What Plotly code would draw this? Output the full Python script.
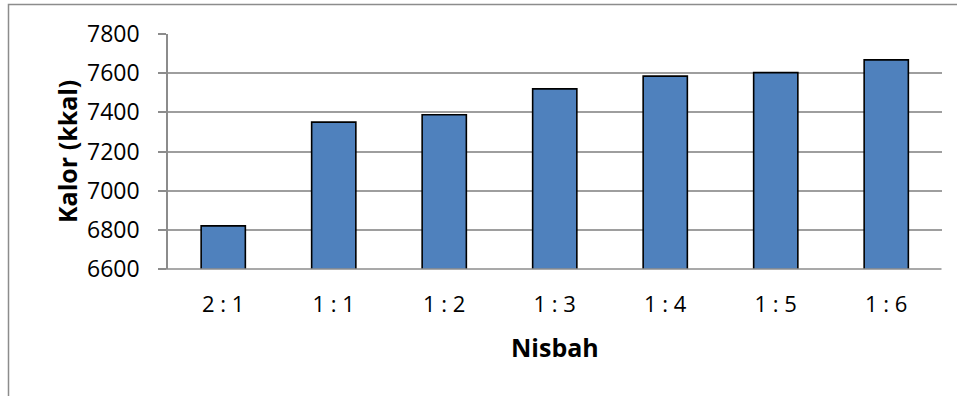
import plotly.graph_objects as go

categories = ["2 : 1", "1 : 1", "1 : 2", "1 : 3", "1 : 4", "1 : 5", "1 : 6"]
kalor = [6820, 7350, 7388, 7520, 7585, 7603, 7668]
y_ticks = [6600, 6800, 7000, 7200, 7400, 7600, 7800]

W, H = 957, 396
x0, x1 = 168, 941.5
y_top, y_bot = 34, 269

fig = go.Figure(go.Bar(
    x=categories, y=kalor,
    marker=dict(color="#4f81bd", line=dict(color="#000000", width=1.6)),
))

font_fam = "Open Sans"
fig.update_layout(
    width=W, height=H,
    autosize=False,
    margin=dict(l=0, r=0, t=0, b=0, pad=0, autoexpand=False),
    paper_bgcolor="white", plot_bgcolor="white",
    bargap=0.6,
    showlegend=False,
    font=dict(family=font_fam, size=22, color="black"),
    xaxis=dict(
        domain=[x0 / W, x1 / W],
        showgrid=False, showline=False, ticks="",
        tickfont=dict(size=22), ticklabelstandoff=20,
        fixedrange=True, automargin=False,
    ),
    yaxis=dict(
        domain=[1 - y_bot / H, 1 - y_top / H],
        range=[6600, 7800], tickvals=y_ticks,
        showgrid=True, gridcolor="#9e9e9e", gridwidth=1.5,
        showline=True, linecolor="#8c8c8c", linewidth=1.5,
        ticks="outside", ticklen=8, tickcolor="#8c8c8c", tickwidth=1.5,
        ticklabelstandoff=14,
        tickfont=dict(size=23),
        zeroline=False, automargin=False, fixedrange=True,
    ),
    shapes=[
        dict(type="line", xref="paper", yref="paper",
             x0=x0 / W - 8 / W, x1=x1 / W, y0=1 - y_bot / H, y1=1 - y_bot / H,
             line=dict(color="#8c8c8c", width=1.5), layer="above"),
        dict(type="rect", xref="paper", yref="paper",
             x0=8.5 / W, x1=1.05, y0=-0.1, y1=1 - 4.5 / H,
             line=dict(color="#8c8c8c", width=1.5), layer="below"),
    ],
    annotations=[
        dict(text="<b>Nisbah</b>", xref="paper", yref="paper",
             x=(x0 + x1) / 2 / W, y=1 - 347 / H, showarrow=False,
             font=dict(size=25, family=font_fam), xanchor="center", yanchor="middle"),
        dict(text="<b>Kalor (kkal)</b>", xref="paper", yref="paper",
             x=67 / W, y=1 - 152 / H, showarrow=False, textangle=-90,
             font=dict(size=25, family=font_fam), xanchor="center", yanchor="middle"),
    ],
)

fig.write_html("out.html", config={"displayModeBar": False})
